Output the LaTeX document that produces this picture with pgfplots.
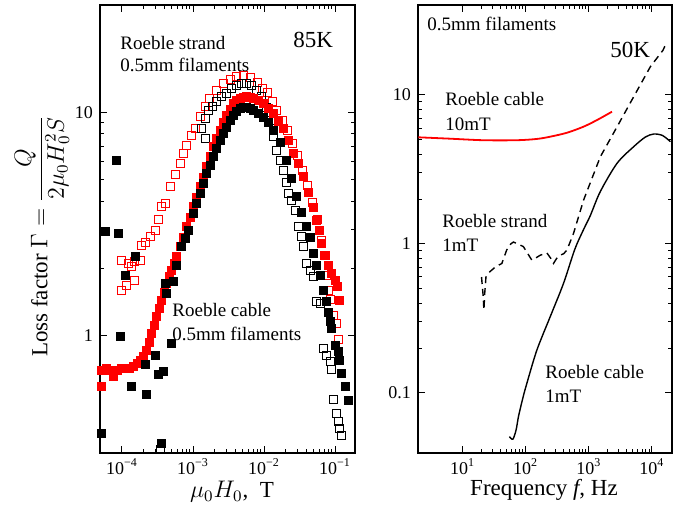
\documentclass[border=0pt]{standalone}
\usepackage{fontspec}
\setmainfont{Liberation Serif}
\usepackage{pgfplots}
\pgfplotsset{compat=1.18}

\pgfplotstableread{
x y
5.18e-5 0.594
5.18e-5 0.705
5.96e-5 0.719
6.77e-5 0.705
7.54e-5 0.658
8.51e-5 0.705
9.68e-5 0.713
1.10e-4 0.719
1.26e-4 0.719
1.44e-4 0.734
1.63e-4 0.757
1.79e-4 0.781
1.98e-4 0.814
2.23e-4 0.866
2.40e-4 0.940
2.62e-4 1.028
2.82e-4 1.120
3.08e-4 1.220
3.32e-4 1.334
3.62e-4 1.448
3.91e-4 1.572
4.27e-4 1.718
4.59e-4 1.853
5.01e-4 1.971
5.40e-4 2.119
5.89e-4 2.261
6.56e-4 2.505
7.23e-4 2.768
8.15e-4 3.075
9.08e-4 3.398
1.01e-3 3.776
1.12e-3 4.173
1.26e-3 4.643
1.40e-3 5.130
1.56e-3 5.702
1.73e-3 6.363
1.93e-3 7.003
2.16e-3 7.660
2.40e-3 8.318
2.67e-3 9.02
2.98e-3 9.70
3.32e-3 10.31
3.70e-3 10.93
4.12e-3 11.32
4.59e-3 11.52
5.11e-3 11.67
5.70e-3 11.70
6.35e-3 11.67
7.07e-3 11.52
8.23e-3 11.32
9.77e-3 10.93
1.14e-2 10.42
1.35e-2 9.87
1.57e-2 9.12
1.87e-2 8.49
2.20e-2 7.50
2.59e-2 6.56
3.04e-2 5.92
3.58e-2 5.18
4.21e-2 4.39
4.90e-2 3.77
5.52e-2 3.30
5.95e-2 2.97
6.50e-2 2.59
7.23e-2 2.28
8.05e-2 2.07
8.99e-2 1.905
0.100 1.778
0.107 1.671
0.115 1.448
}\redfilled

\pgfplotstableread{
x y
5.18e-5 0.368
5.77e-5 2.93
8.42e-5 6.11
8.87e-5 2.87
9.37e-5 0.993
1.10e-4 1.871
1.37e-4 0.594
1.52e-4 2.26
2.11e-4 0.743
2.23e-4 0.546
2.92e-4 0.822
3.25e-4 0.670
3.82e-4 0.693
3.62e-4 0.330
5.01e-4 0.927
4.03e-4 1.718
4.27e-4 1.552
5.28e-4 1.746
5.89e-4 2.07
6.93e-4 2.505
7.71e-4 2.74
8.59e-4 2.97
1.01e-3 3.53
1.13e-3 3.93
1.26e-3 4.34
1.40e-3 4.82
1.56e-3 5.32
1.73e-3 5.80
1.93e-3 6.31
2.16e-3 6.90
2.40e-3 7.50
2.67e-3 8.05
2.98e-3 8.59
3.32e-3 9.21
3.70e-3 9.70
4.12e-3 10.10
4.59e-3 10.39
5.11e-3 10.50
5.70e-3 10.50
6.35e-3 10.42
7.07e-3 10.21
8.23e-3 9.90
9.77e-3 9.50
1.14e-2 9.02
1.35e-2 8.32
1.68e-2 7.35
2.09e-2 6.11
2.46e-2 5.07
2.89e-2 4.19
3.40e-2 3.58
3.99e-2 3.08
4.45e-2 2.77
4.95e-2 2.34
5.52e-2 2.07
6.15e-2 1.87
6.84e-2 1.59
7.63e-2 1.42
8.05e-2 1.28
8.51e-2 1.158
8.99e-2 1.081
0.100 0.912
0.111 0.851
0.117 0.781
0.124 0.681
0.138 0.594
0.154 0.518
}\blackfilled

\pgfplotstableread{
x y
3.43e-4 0.310
1.33e-3 8.46
1.48e-3 7.64
1.52e-3 9.40
1.63e-3 10.2
1.85e-3 10.6
2.11e-3 11.2
2.48e-3 11.7
2.98e-3 12.1
3.51e-3 12.7
4.12e-3 13.2
4.85e-3 13.4
5.70e-3 13.4
6.71e-3 13.1
7.89e-3 12.5
9.29e-3 11.7
1.09e-2 10.5
1.22e-2 9.21
1.35e-2 7.81
1.48e-2 6.77
1.68e-2 6.11
1.87e-2 5.51
2.04e-2 4.87
2.20e-2 4.34
2.46e-2 4.05
2.73e-2 3.65
3.04e-2 3.08
3.40e-2 2.77
3.58e-2 2.51
3.99e-2 2.11
4.45e-2 1.97
4.95e-2 1.84
5.52e-2 1.42
6.15e-2 1.40
6.84e-2 0.881
7.63e-2 0.822
8.51e-2 0.768
8.99e-2 0.705
9.46e-2 0.518
0.106 0.452
0.111 0.414
0.117 0.387
0.124 0.361
}\blackopen

\pgfplotstableread{
x y
9.9e-5 1.60
1.16e-4 1.69
1.52e-4 1.77
9.9e-5 2.18
1.23e-4 2.11
1.37e-4 2.04
1.52e-4 2.15
1.80e-4 2.18
1.89e-4 2.55
2.11e-4 2.63
2.48e-4 2.77
2.92e-4 2.97
3.25e-4 3.30
3.62e-4 3.78
4.03e-4 3.91
4.74e-4 4.64
5.57e-4 5.24
6.56e-4 5.90
7.30e-4 6.55
8.15e-4 7.13
9.59e-4 7.89
1.07e-3 8.46
1.26e-3 9.53
1.48e-3 10.6
1.73e-3 11.5
2.16e-3 12.5
2.67e-3 13.4
3.32e-3 14.0
4.12e-3 14.5
5.11e-3 14.6
6.35e-3 14.3
7.97e-3 13.5
9.37e-3 12.8
1.10e-2 12.2
1.30e-2 11.2
1.52e-2 10.2
1.79e-2 9.21
2.11e-2 8.32
2.48e-2 7.28
2.92e-2 6.43
3.43e-2 5.51
4.03e-2 4.72
4.75e-2 3.96
5.58e-2 3.30
6.35e-2 2.68
7.00e-2 2.30
7.63e-2 1.87
8.05e-2 1.60
8.51e-2 1.45
9.46e-2 1.24
0.106 1.14
0.111 0.96
}\redopen

\pgfplotstableread{
x y
2.0 5.20
6.34 5.09
21.4 4.97
72.4 4.97
151 5.07
245 5.25
451 5.58
827 6.13
1349 6.79
2336 7.73
}\cableten

\pgfplotstableread{
x y
55.3 0.0509
62.7 0.0489
70.6 0.0565
76.9 0.0693
90 0.092
104.5 0.116
150.6 0.194
245 0.325
398 0.544
600 0.92
827 1.25
1057 1.55
1524 2.25
2805 3.48
5145 4.50
7880 5.22
10690 5.47
14690 5.35
19660 4.86
}\cableone

\pgfplotstableread{
x y
20.0 0.60
21.2 0.45
21.8 0.36
22.5 0.47
23.5 0.60
27 0.65
33 0.70
42 0.74
50 0.91
58 1.00
64 1.03
75 1.00
92 0.96
110 0.85
125 0.78
141 0.80
170 0.84
217 0.87
250 0.80
276 0.74
310 0.80
353 0.84
400 0.86
451 0.91
574 1.18
827 1.97
1524 3.85
2805 6.12
5145 9.74
9460 15.5
15000 20.0
16400 21.7
}\strandone

\pgfplotsset{
  myaxis/.style={
    scale only axis,
    tick align=inside,
    major tick length=3.5pt,
    minor tick length=2pt,
    axis line style={line width=0.8pt},
    every tick/.style={black, line width=0.5pt},
    tick label style={font=\fontsize{9}{10}\selectfont},
    xticklabel style={yshift=0.8pt},
    xtick pos=both, ytick pos=both,
  },
}

\begin{document}
\begin{tikzpicture}[x=1pt,y=1pt]
\path[use as bounding box] (0,0) rectangle (343,-256);

% ---------------- left panel ----------------
\begin{loglogaxis}[myaxis,
  at={(50pt,-226.5pt)}, anchor=south west,
  width=127.5pt, height=224pt,
  xmin=4.9e-5, xmax=0.191,
  ymin=0.300, ymax=30.1,
  xtick={1e-4,1e-3,1e-2,1e-1},
  xticklabels={10\textsuperscript{−4},10\textsuperscript{−3},10\textsuperscript{−2},10\textsuperscript{−1}},
  ytick={1,10},
  yticklabels={1,10},
]
\addplot[only marks, mark=square, mark size=2pt, red, mark options={line width=0.45pt}] table {\redopen};
\addplot[only marks, mark=square, mark size=2pt, black, mark options={line width=0.45pt}] table {\blackopen};
\addplot[only marks, mark=square*, mark size=2pt, red, mark options={fill=red, draw=red}] table {\redfilled};
\addplot[only marks, mark=square*, mark size=2pt, black, mark options={fill=black, draw=black}] table {\blackfilled};
\end{loglogaxis}

% ---------------- right panel ----------------
\begin{loglogaxis}[myaxis,
  at={(209pt,-226.5pt)}, anchor=south west,
  width=127pt, height=224pt,
  xmin=1.97, xmax=2.08e4,
  ymin=0.0395, ymax=40.2,
  xtick={10,100,1000,10000},
  xticklabels={10\textsuperscript{1},10\textsuperscript{2},10\textsuperscript{3},10\textsuperscript{4}},
  ytick={0.1,1,10},
  yticklabels={0.1,1,10},
]
\addplot[red, line width=0.9pt, smooth] table {\cableten};
\addplot[black, line width=0.7pt, smooth] table {\cableone};
\addplot[black, line width=0.7pt, dash pattern=on 3.5pt off 2.5pt] table {\strandone};
\end{loglogaxis}

% ---------------- annotations ----------------
\begin{scope}[every node/.style={inner sep=0pt, font=\fontsize{9.5}{11}\selectfont}]
\node[anchor=base west] at (60,-25) {Roeble strand};
\node[anchor=base west] at (60,-36) {0.5mm filaments};
\node[anchor=base west] at (86,-158.5) {Roeble cable};
\node[anchor=base west] at (86,-170.5) {0.5mm filaments};
\node[anchor=base west] at (213.5,-15.5) {0.5mm filaments};
\node[anchor=base west] at (222.5,-53) {Roeble cable};
\node[anchor=base west] at (222.5,-65.5) {10mT};
\node[anchor=base west] at (221,-114) {Roeble strand};
\node[anchor=base west] at (221,-126) {1mT};
\node[anchor=base west] at (272.5,-189.5) {Roeble cable};
\node[anchor=base west] at (272.5,-201.5) {1mT};
\end{scope}
\node[anchor=base west, inner sep=0pt, font=\fontsize{11.5}{13}\selectfont] at (146.5,-24) {85K};
\node[anchor=base west, inner sep=0pt, font=\fontsize{11.5}{13}\selectfont] at (305,-29) {50K};

\node[anchor=base, inner sep=0pt, font=\fontsize{11.5}{13}\selectfont] at (116,-249) {$\mu_0H_0$,\ \ T};
\node[anchor=base, inner sep=0pt, font=\fontsize{11.5}{13}\selectfont] at (272,-248) {Frequency \textit{f}, Hz};
\node[rotate=90, anchor=center, inner sep=0pt, font=\fontsize{11.5}{13}\selectfont] at (21,-118) {Loss factor $\Gamma = \displaystyle\frac{Q}{2\mu_0 H_0^2 S}$};
\end{tikzpicture}
\end{document}
